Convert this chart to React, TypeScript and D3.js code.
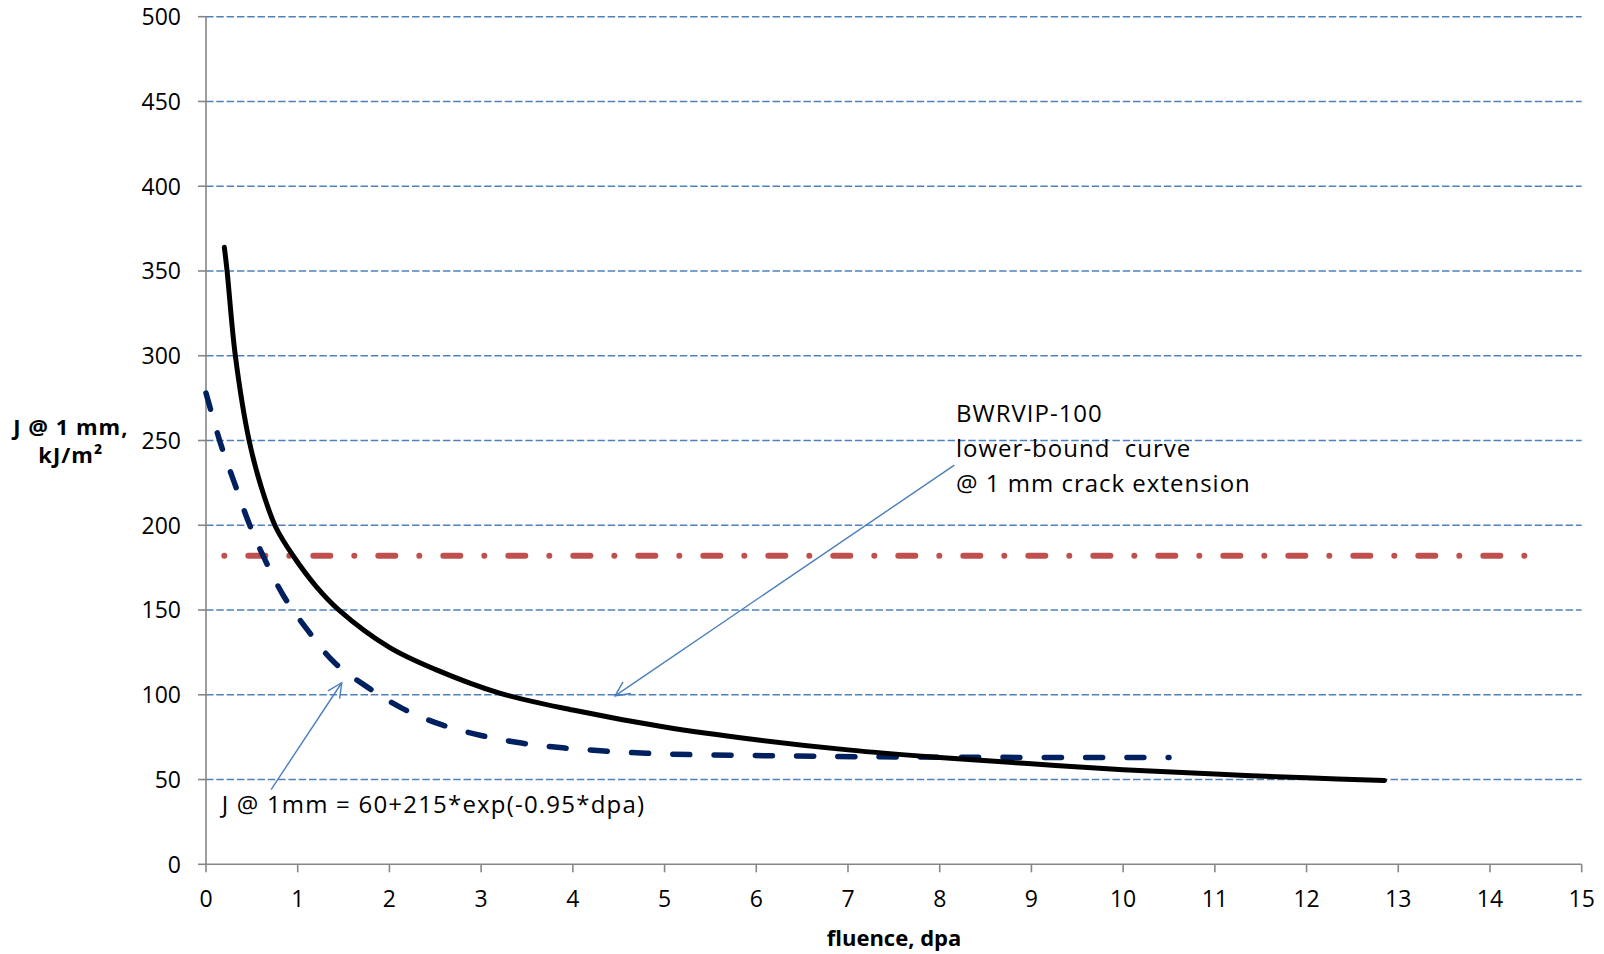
import React, { useLayoutEffect, useRef, useState } from "react";
import * as d3 from "d3";

// ---- data ----
const xTicks = [0, 1, 2, 3, 4, 5, 6, 7, 8, 9, 10, 11, 12, 13, 14, 15];
const yTicks = [0, 50, 100, 150, 200, 250, 300, 350, 400, 450, 500];

// BWRVIP-100 lower-bound curve (black, solid)
const bwrDpa = [0.2, 0.23, 0.32, 0.47, 0.6, 0.76, 0.95, 1.2, 1.45, 2.0, 2.5, 3.2, 4.0, 5.0, 6.0, 7.0, 8.0, 9.0, 10.0, 11.0, 12.0, 12.85];
const bwrJ = [364, 350, 300, 250, 223, 199, 182, 164, 150, 128, 115, 101, 91, 81, 73.5, 67.5, 63, 59.3, 55.8, 53.2, 51, 49.5];

// J @ 1mm fit (navy, dashed)
const fitDpa = [0, 0.16, 0.31, 0.47, 0.64, 0.85, 1.11, 1.4, 1.76, 2.14, 2.56, 3.0, 3.44, 3.89, 4.8, 6.2, 8.0, 10.5];
const fitJ = [278, 248, 225, 201, 180, 158, 138, 119, 104.5, 92, 82.5, 76, 71.5, 68.7, 65.5, 64, 63.2, 63];

// horizontal reference (red, dash-dot)
const refDpa = [0, 14.45];
const refJ = [182, 182];

const annoBwr = ["BWRVIP-100", "lower-bound  curve", "@ 1 mm crack extension"];
const annoFit = "J @ 1mm = 60+215*exp(-0.95*dpa)";
const xTitle = "fluence, dpa";
const yTitle = ["J @ 1 mm,", "kJ/m\u00B2"];

const W = 1604;
const H = 954;
const FONT = "'Open Sans', 'Liberation Sans', sans-serif";

export default function App() {
  const x = d3.scaleLinear().domain([0, 15]).range([206, 1581.7]);
  const y = d3.scaleLinear().domain([0, 500]).range([864.3, 16.7]);

  const mk = (xs: number[], ys: number[], curve: any) =>
    d3
      .line<number>()
      .x((_, i) => x(xs[i]))
      .y((_, i) => y(ys[i]))
      .curve(curve)(xs) as string;

  const bwrPath = mk(bwrDpa, bwrJ, d3.curveCatmullRom.alpha(0.5));
  const fitPath = mk(fitDpa, fitJ, d3.curveCatmullRom.alpha(0.5));
  const refPath = mk(refDpa, refJ, d3.curveLinear);

  const fitRef = useRef<SVGPathElement>(null);
  const [fitDash, setFitDash] = useState("17,24.3");
  useLayoutEffect(() => {
    const el = fitRef.current;
    if (!el) return;
    const L = el.getTotalLength();
    const n = Math.max(1, Math.round((L - 1) / 41.3));
    const P = (L - 1) / n;
    setFitDash(`17,${(P - 17).toFixed(3)}`);
  }, [fitPath]);

  const gridColor = "#4F81BD";
  const axisColor = "#868686";
  const arrowColor = "#4A7EBB";

  // annotation arrows (in data coordinates)
  const arrow1 = { from: [8.16, 235.5], to: [4.46, 99.4] };
  const arrow2 = { from: [0.71, 44.1], to: [1.48, 107.1] };

  const arrowHead = (a: { from: number[]; to: number[] }) => {
    const x1 = x(a.from[0]), y1 = y(a.from[1]);
    const x2 = x(a.to[0]), y2 = y(a.to[1]);
    const ang = Math.atan2(y2 - y1, x2 - x1);
    const L = 16, spread = 0.45;
    const p1 = [x2 - L * Math.cos(ang - spread), y2 - L * Math.sin(ang - spread)];
    const p2 = [x2 - L * Math.cos(ang + spread), y2 - L * Math.sin(ang + spread)];
    return (
      <g stroke={arrowColor} strokeWidth={1.4} fill="none">
        <line x1={x1} y1={y1} x2={x2} y2={y2} />
        <polyline points={`${p1[0]},${p1[1]} ${x2},${y2} ${p2[0]},${p2[1]}`} />
      </g>
    );
  };

  return (
    <svg
      width={W}
      height={H}
      style={{ position: "absolute", left: 0, top: 0, background: "#fff" }}
      fontFamily={FONT}
    >
      <rect x={0} y={0} width={W} height={H} fill="#fff" />
      {/* gridlines */}
      {yTicks.filter((t) => t > 0).map((t) => (
        <line
          key={"g" + t}
          x1={x(0)}
          x2={x(15)}
          y1={y(t)}
          y2={y(t)}
          stroke={gridColor}
          strokeWidth={1.4}
          strokeDasharray="7.5,2.8"
        />
      ))}
      {/* axes */}
      <line x1={x(0)} x2={x(0)} y1={y(500)} y2={y(0)} stroke={axisColor} strokeWidth={1.6} />
      <line x1={x(0)} x2={x(15)} y1={y(0)} y2={y(0)} stroke={axisColor} strokeWidth={1.6} />
      {yTicks.map((t) => (
        <g key={"yt" + t}>
          <line x1={x(0) - 8} x2={x(0)} y1={y(t)} y2={y(t)} stroke={axisColor} strokeWidth={1.6} />
          <text x={181} y={y(t) + 8.3} textAnchor="end" fontSize={23} fill="#000">
            {t}
          </text>
        </g>
      ))}
      {xTicks.map((t) => (
        <g key={"xt" + t}>
          <line x1={x(t)} x2={x(t)} y1={y(0)} y2={y(0) + 8} stroke={axisColor} strokeWidth={1.6} />
          <text x={x(t)} y={907} textAnchor="middle" fontSize={23} fill="#000">
            {t}
          </text>
        </g>
      ))}
      {/* axis titles */}
      <text x={894} y={946} textAnchor="middle" fontSize={22} fontWeight="bold" fill="#000">
        {xTitle}
      </text>
      <text x={70.8} y={435} textAnchor="middle" fontSize={22} fontWeight="bold" letterSpacing={1} fill="#000">
        {yTitle[0]}
      </text>
      <text x={70.8} y={463.3} textAnchor="middle" fontSize={22} fontWeight="bold" letterSpacing={1} fill="#000">
        {yTitle[1]}
      </text>

      {/* series */}
      <path
        d={refPath}
        fill="none"
        stroke="#C0504D"
        strokeWidth={6}
        strokeLinecap="round"
        strokeDasharray="17,24,0,24"
        strokeDashoffset={22.7}
      />
      <path
        ref={fitRef}
        d={fitPath}
        fill="none"
        stroke="#002060"
        strokeWidth={5.5}
        strokeLinecap="round"
        strokeDasharray={fitDash}
      />
      <path d={bwrPath} fill="none" stroke="#000" strokeWidth={5} strokeLinecap="round" />

      {/* annotations */}
      {arrowHead(arrow1)}
      {arrowHead(arrow2)}
      {annoBwr.map((s, i) => (
        <text
          key={"a" + i}
          x={956}
          y={421.7 + i * 35}
          fontSize={24}
          letterSpacing={1}
          fill="#000"
          style={{ whiteSpace: "pre" }}
        >
          {s}
        </text>
      ))}
      <text x={221.7} y={813.3} fontSize={24} letterSpacing={1.2} fill="#000">
        {annoFit}
      </text>
    </svg>
  );
}
